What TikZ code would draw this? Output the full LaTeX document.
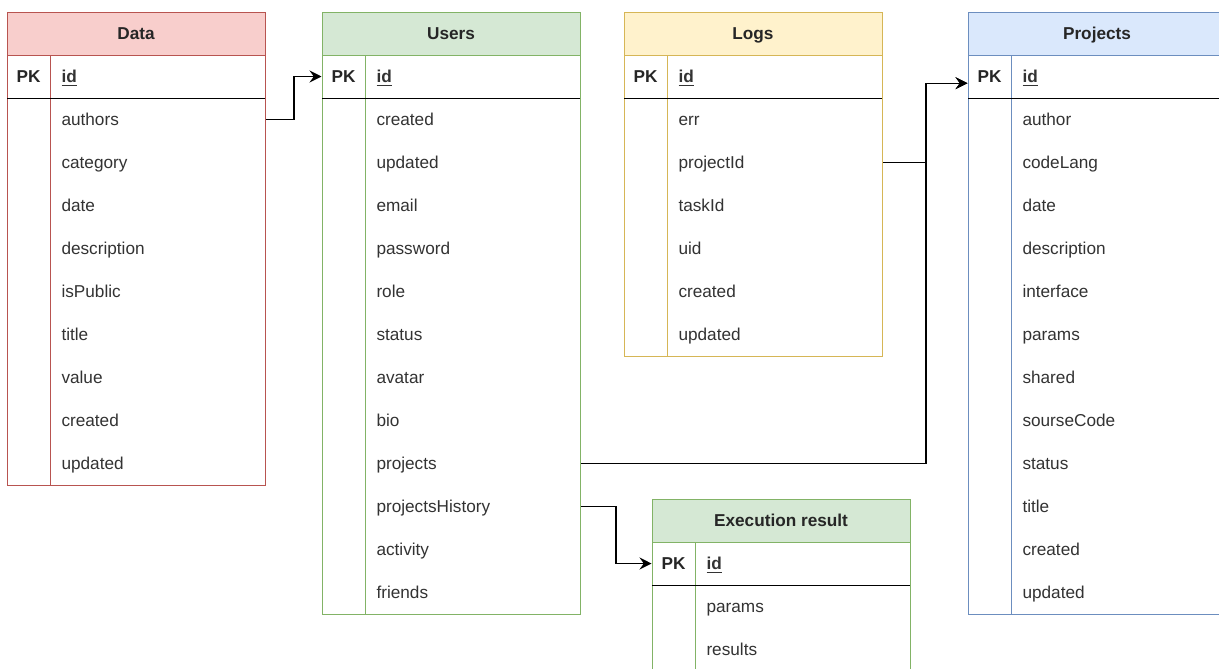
\documentclass[tikz,border=0pt]{standalone}
\usepackage{fontspec}
\setmainfont{Liberation Sans}
\usetikzlibrary{arrows.meta}

\begin{document}
\begin{tikzpicture}[x=0.75pt, y=-0.75pt, line width=0.75pt,
                head/.style={
                text height=11.4pt,
                text depth=1.8pt,
                font=\fontsize{12.9}{15.5}\selectfont\bfseries,
                text=black!85
              },
                pkcell/.style={
                minimum width=32.25pt,
                minimum height=32.25pt,
                inner sep=0pt,
                text height=11.4pt,
                text depth=1.8pt,
                font=\fontsize{12.9}{15.5}\selectfont\bfseries,
                text=black!85
              },
                rowcell/.style={
                anchor=west,
                minimum height=32.25pt,
                inner xsep=8.25pt,
                inner ysep=0pt,
                text height=11.4pt,
                text depth=1.8pt,
                text width=144.75pt,
                align=left,
                font=\fontsize{12.9}{15.5}\selectfont,
                text=black!80
              },
                link/.style={
                -{Stealth[length=9pt, width=9pt, inset=3.2pt]},
                line width=1pt
              }]
            % Define colors
            \definecolor{datafill}{RGB}{248, 206, 204}
            \definecolor{dataline}{RGB}{184, 84, 80}
            \definecolor{userfill}{RGB}{213, 232, 212}
            \definecolor{userline}{RGB}{130, 179, 102}
            \definecolor{logfill}{RGB}{255, 242, 204}
            \definecolor{logline}{RGB}{214, 182, 86}
            \definecolor{projfill}{RGB}{218, 232, 252}
            \definecolor{projline}{RGB}{108, 142, 191}

        \clip (0,0) rectangle (1219,668);
        \fill[white] (0,0) rectangle (1219,668);

        \begin{scope}[shift={(7,12)}] % Data
            \fill[datafill] (0,0) rectangle (258,43);
            \draw[dataline] (0,0) rectangle (258,473);
            \draw[dataline] (0,43) -- (258,43);
            \draw[dataline] (43,43) -- (43,473);
            \draw (0,86) -- (258,86);
            \node[head] (data-head) at (129,21.5) {Data};
            \node[pkcell] (data-pk) at (21.5,64.5) {PK};
            \node[rowcell, font=\fontsize{12.9}{15.5}\selectfont\bfseries] (data-id) at (43,64.5) {\underline{id}};
            \foreach \f [count=\i] in {authors,category,date,description,isPublic,title,value,created,updated}
                \node[rowcell] (data-\f) at (43,64.5+43*\i) {\f};
        \end{scope}

        \begin{scope}[shift={(322,12)}] % Users
            \fill[userfill] (0,0) rectangle (258,43);
            \draw[userline] (0,0) rectangle (258,602);
            \draw[userline] (0,43) -- (258,43);
            \draw[userline] (43,43) -- (43,602);
            \draw (0,86) -- (258,86);
            \node[head] (users-head) at (129,21.5) {Users};
            \node[pkcell] (users-pk) at (21.5,64.5) {PK};
            \node[rowcell, font=\fontsize{12.9}{15.5}\selectfont\bfseries] (users-id) at (43,64.5) {\underline{id}};
            \foreach \f [count=\i] in {created,updated,email,password,role,status,avatar,bio,projects,projectsHistory,activity,friends}
                \node[rowcell] (users-\f) at (43,64.5+43*\i) {\f};
        \end{scope}

        \begin{scope}[shift={(624,12)}] % Logs
            \fill[logfill] (0,0) rectangle (258,43);
            \draw[logline] (0,0) rectangle (258,344);
            \draw[logline] (0,43) -- (258,43);
            \draw[logline] (43,43) -- (43,344);
            \draw (0,86) -- (258,86);
            \node[head] (logs-head) at (129,21.5) {Logs};
            \node[pkcell] (logs-pk) at (21.5,64.5) {PK};
            \node[rowcell, font=\fontsize{12.9}{15.5}\selectfont\bfseries] (logs-id) at (43,64.5) {\underline{id}};
            \foreach \f [count=\i] in {err,projectId,taskId,uid,created,updated}
                \node[rowcell] (logs-\f) at (43,64.5+43*\i) {\f};
        \end{scope}

        \begin{scope}[shift={(968,12)}] % Projects
            \fill[projfill] (0,0) rectangle (258,43);
            \draw[projline] (0,0) rectangle (258,602);
            \draw[projline] (0,43) -- (258,43);
            \draw[projline] (43,43) -- (43,602);
            \draw (0,86) -- (258,86);
            \node[head] (projects-head) at (129,21.5) {Projects};
            \node[pkcell] (projects-pk) at (21.5,64.5) {PK};
            \node[rowcell, font=\fontsize{12.9}{15.5}\selectfont\bfseries] (projects-id) at (43,64.5) {\underline{id}};
            \foreach \f [count=\i] in {author,codeLang,date,description,interface,params,shared,sourseCode,status,title,created,updated}
                \node[rowcell] (projects-\f) at (43,64.5+43*\i) {\f};
        \end{scope}

        \begin{scope}[shift={(652,499)}] % Execution result
            \fill[userfill] (0,0) rectangle (258,43);
            \draw[userline] (0,0) rectangle (258,172);
            \draw[userline] (0,43) -- (258,43);
            \draw[userline] (43,43) -- (43,172);
            \draw (0,86) -- (258,86);
            \node[head] (exec-head) at (129,21.5) {Execution result};
            \node[pkcell] (exec-pk) at (21.5,64.5) {PK};
            \node[rowcell, font=\fontsize{12.9}{15.5}\selectfont\bfseries] (exec-id) at (43,64.5) {\underline{id}};
            \foreach \f [count=\i] in {params,results}
                \node[rowcell] (exec-\f) at (43,64.5+43*\i) {\f};
        \end{scope}

        % relations
        \draw[link] (data-authors.east) -- ++(28,0) |- (users-pk.west);
        \draw[link] (users-projects.east) -- ++(345,0) |- ([yshift=-5pt]projects-pk.west);
        \draw[link] (logs-projectId.east) -- ++(43,0) |- ([yshift=-5pt]projects-pk.west);
        \draw[link] (users-projectsHistory.east) -- ++(35,0) |- (exec-pk.west);

\end{tikzpicture}
\end{document}
